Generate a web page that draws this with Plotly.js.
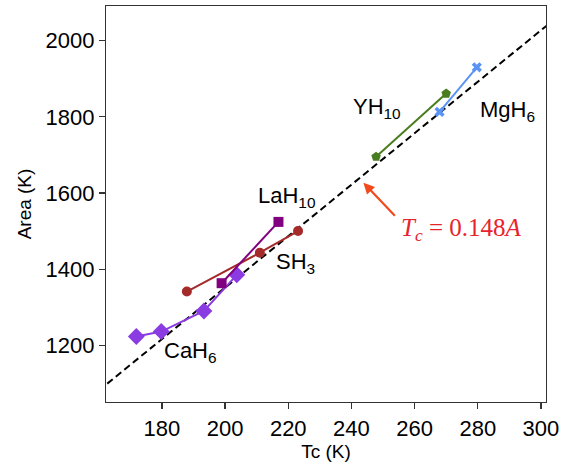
<!DOCTYPE html>
<html>
<head>
<meta charset="utf-8">
<script src="https://cdn.plot.ly/plotly-3.0.1.min.js"></script>
<style>html,body{margin:0;padding:0;background:#fff;}#chart{width:575px;height:464px;}</style>
</head>
<body>
<div id="chart"></div>
<script>
// Data
const caH6_tc = [171.9, 179.8, 193.3, 203.7];
const caH6_area = [1223, 1236, 1290, 1385];
const laH10_tc = [198.9, 216.9];
const laH10_area = [1363, 1524];
const sH3_tc = [187.9, 211.0, 223.1];
const sH3_area = [1341, 1443, 1500];
const yH10_tc = [247.8, 270.0];
const yH10_area = [1695, 1861];
const mgH6_tc = [267.9, 279.7];
const mgH6_area = [1813, 1930];
const fit_tc = [160, 305];
const fit_area = [1081, 2061];
const xTicks = [180, 200, 220, 240, 260, 280, 300];
const yTicks = [1200, 1400, 1600, 1800, 2000];

const traces = [
  {x: fit_tc, y: fit_area, mode: 'lines', line: {color: '#000', width: 2, dash: '7px,4px'}, hoverinfo: 'skip'},
  {x: caH6_tc, y: caH6_area, mode: 'lines+markers', line: {color: '#8a3be2', width: 2},
   marker: {symbol: 'diamond', size: 13, color: '#8a3be2'}},
  {x: sH3_tc, y: sH3_area, mode: 'lines+markers', line: {color: '#a52a2a', width: 2},
   marker: {symbol: 'circle', size: 10, color: '#a52a2a'}},
  {x: laH10_tc, y: laH10_area, mode: 'lines+markers', line: {color: '#800080', width: 2},
   marker: {symbol: 'square', size: 10, color: '#800080'}},
  {x: yH10_tc, y: yH10_area, mode: 'lines+markers', line: {color: '#4a7d1e', width: 2},
   marker: {symbol: 'pentagon', size: 10, color: '#4a7d1e'}},
  {x: mgH6_tc, y: mgH6_area, mode: 'lines+markers', line: {color: '#5b93f5', width: 2},
   marker: {symbol: 'x', size: 9, color: '#5b93f5'}}
];

const lblFont = {family: 'Liberation Sans, Arial, sans-serif', size: 22, color: '#000'};
function lbl(text, x, y) {
  return {text: text, x: x, y: y, xref: 'x', yref: 'y', showarrow: false,
          xanchor: 'left', yanchor: 'middle', font: lblFont};
}

const layout = {
  width: 575, height: 464,
  margin: {l: 106, r: 29, t: 6, b: 62},
  paper_bgcolor: '#fff', plot_bgcolor: '#fff',
  showlegend: false,
  font: {family: 'Liberation Sans, Arial, sans-serif', color: '#000'},
  xaxis: {
    range: [162.3, 301.6], tickvals: xTicks, ticks: 'outside', ticklen: 6, tickwidth: 1.2,
    tickcolor: '#333', showgrid: false, zeroline: false, showline: true, mirror: true,
    linecolor: '#333', linewidth: 1.2, tickfont: {size: 22, color: '#000'},
    title: {text: 'Tc (K)', font: {size: 19, color: '#000'}, standoff: 0}
  },
  yaxis: {
    range: [1051, 2091], tickvals: yTicks, ticks: 'outside', ticklen: 6, tickwidth: 1.2,
    tickcolor: '#333', showgrid: false, zeroline: false, showline: true, mirror: true,
    linecolor: '#333', linewidth: 1.2, tickfont: {size: 22, color: '#000'},
    title: {text: 'Area (K)', font: {size: 19, color: '#000'}, standoff: 8}
  },
  annotations: [
    lbl('YH<sub>10</sub>', 240.0, 1822),
    lbl('MgH<sub>6</sub>', 280.0, 1814),
    lbl('LaH<sub>10</sub>', 209.8, 1589),
    lbl('SH<sub>3</sub>', 215.6, 1416),
    lbl('CaH<sub>6</sub>', 180.0, 1183),
    {x: 243.8, y: 1627, ax: 254.2, ay: 1536, xref: 'x', yref: 'y', axref: 'x', ayref: 'y',
     showarrow: true, arrowhead: 2, arrowsize: 1, arrowwidth: 2.2, arrowcolor: '#f24a1c', text: ''},
    {x: 275.0, y: 1503, xref: 'x', yref: 'y', showarrow: false, xanchor: 'center', yanchor: 'middle',
     text: '<i>T</i><sub><i>c</i></sub> = 0.148<i>A</i>',
     font: {family: 'Liberation Serif, Times New Roman, serif', size: 25, color: '#e8232b'}}
  ]
};

Plotly.newPlot('chart', traces, layout, {displayModeBar: false, staticPlot: true});
</script>
</body>
</html>
